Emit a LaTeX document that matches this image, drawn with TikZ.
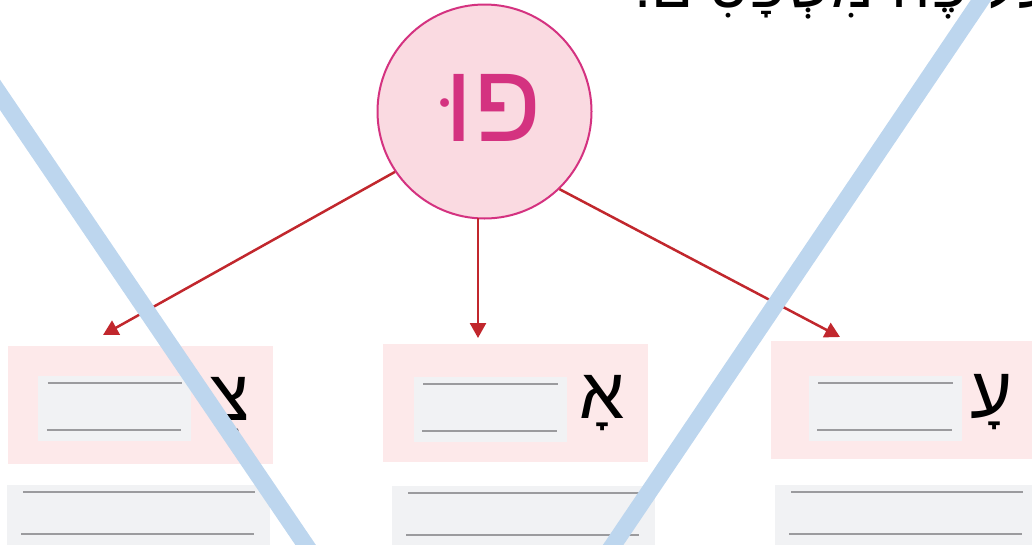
\documentclass[tikz,border=0pt]{standalone}
\usepackage{fontspec}
\newfontfamily\hebfont[Script=Hebrew]{Liberation Sans}
\TeXXeTstate=1
\usetikzlibrary{arrows.meta}
\definecolor{pumagenta}{RGB}{212,50,128}
\definecolor{pupink}{RGB}{250,218,225}
\definecolor{arrowred}{RGB}{193,39,45}
\definecolor{boxpink}{RGB}{253,233,234}
\definecolor{fieldgray}{RGB}{241,242,244}
\definecolor{rulegray}{RGB}{155,155,158}
\definecolor{strikeblue}{RGB}{189,214,238}
\tikzset{letter box/.style={fill=boxpink,minimum width=265pt,minimum height=118pt,inner sep=0pt},
    answer field/.style={fill=fieldgray,minimum width=153pt,minimum height=65pt,inner sep=0pt},
    long field/.style={fill=fieldgray,minimum width=263pt,minimum height=80pt,inner sep=0pt},
    answer line/.style={rulegray,line width=2pt},
    vowel letter/.style={anchor=base east,inner sep=0pt,font=\hebfont\fontsize{72}{72}\selectfont},
    split arrow/.style={arrowred,line width=2.5pt,-{Triangle[length=15pt,width=16pt]}},
    strike/.style={strikeblue,line width=17pt}}

\begin{document}
\begin{tikzpicture}[x=1pt,y=-1pt]
      \useasboundingbox (0,0) rectangle (1032,544);
      \clip (0,0) rectangle (1032,544);
      % instruction, cut off at the top
      \node[anchor=base west,inner sep=0pt,font=\hebfont\fontsize{62}{62}\selectfont] (task) at (634,7) {\beginR בְּעַל פֶּה מִשְׁפָּטִים.\endR};
      % the syllable
      \node[circle,draw=pumagenta,fill=pupink,line width=2pt,minimum size=214pt,inner sep=0pt] (pu) at (484.5,111.5) {};
      \node[text=pumagenta,inner sep=0pt,font=\hebfont\fontsize{112}{112}\selectfont] (pu text) at (493,108) {\beginR פוּ\endR};
      % three letter boxes
      \node[letter box] (box a) at (140.5,405) {};
      \node[letter box] (box b) at (515.5,402.5) {};
      \node[letter box] (box c) at (903.5,400) {};
      \node[answer field] (field a) at (114.5,408.5) {};
      \node[answer field] (field b) at (490,409.5) {};
      \node[answer field] (field c) at (885,408.5) {};
      \node[vowel letter] (letter a) at (250,420) {\beginR צֻ\endR};
      \node[vowel letter] (letter b) at (625,418) {\beginR אָ\endR};
      \node[vowel letter] (letter c) at (1013,417) {\beginR עָ\endR};
      \foreach \F in {a,b,c}
      {\draw[answer line] ([xshift=10pt,yshift=-7pt]field \F.north west) -- ([xshift=-9pt,yshift=-7pt]field \F.north east);
       \draw[answer line] ([xshift=9pt,yshift=11pt]field \F.south west) -- ([xshift=-10pt,yshift=11pt]field \F.south east);}
      % fields below the boxes
      \node[long field,anchor=north west] (line a) at (7,485) {};
      \node[long field,anchor=north west] (line b) at (392,486) {};
      \node[long field,anchor=north west] (line c) at (775,485) {};
      \foreach \F in {a,b,c}
      {\draw[answer line] ([xshift=16pt,yshift=-7pt]line \F.north west) -- ([xshift=-15pt,yshift=-7pt]line \F.north east);
       \draw[answer line] ([xshift=14pt,yshift=-49pt]line \F.north west) -- ([xshift=-16pt,yshift=-49pt]line \F.north east);}
      % arrows
      \coordinate (tip a) at (103,335);
      \coordinate (tip b) at (478,338);
      \coordinate (tip c) at (840,337);
      \draw[split arrow] (pu.214) -- (tip a);
      \draw[split arrow] (478,218) -- (tip b);
      \draw[split arrow] (pu.314) -- (tip c);
      % crossed out
      \draw[strike] (-78,-20) -- (343,600);
      \draw[strike] (994.5,-20) -- (576,600);
\end{tikzpicture}
\end{document}
